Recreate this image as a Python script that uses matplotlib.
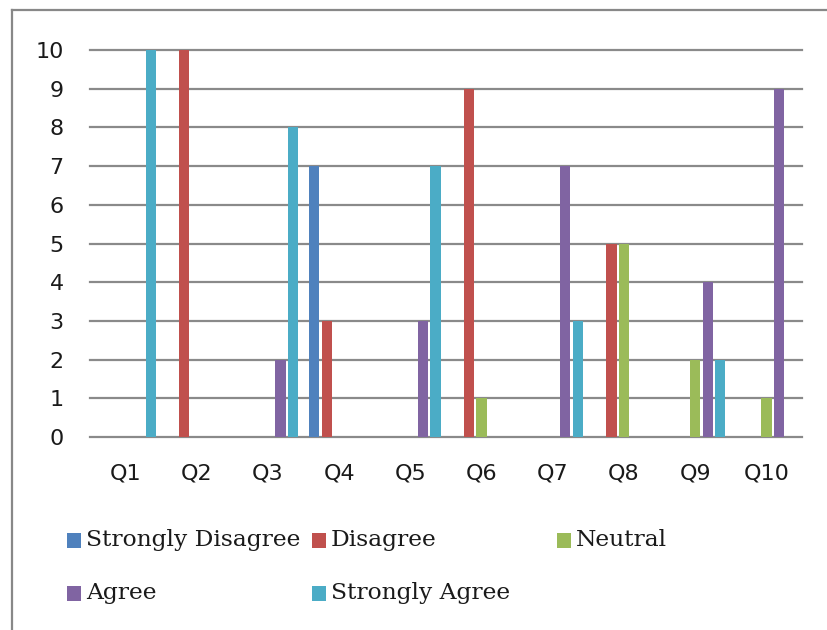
import matplotlib
matplotlib.use("Agg")
import matplotlib.pyplot as plt
from matplotlib.patches import Rectangle
from matplotlib.lines import Line2D
import numpy as np

categories = ["Q1", "Q2", "Q3", "Q4", "Q5", "Q6", "Q7", "Q8", "Q9", "Q10"]
series_names = ["Strongly Disagree", "Disagree", "Neutral", "Agree", "Strongly Agree"]
strongly_disagree = [0, 0, 0, 7, 0, 0, 0, 0, 0, 0]
disagree = [0, 10, 0, 3, 0, 9, 0, 5, 0, 0]
neutral = [0, 0, 0, 0, 0, 1, 0, 5, 2, 1]
agree = [0, 0, 2, 0, 3, 0, 7, 0, 4, 9]
strongly_agree = [10, 0, 8, 0, 7, 0, 3, 0, 2, 0]
y_ticks = [0, 1, 2, 3, 4, 5, 6, 7, 8, 9, 10]

series_values = [strongly_disagree, disagree, neutral, agree, strongly_agree]
colors = ["#4F81BD", "#C0504D", "#9BBB59", "#8064A2", "#4BACC6"]

W, H = 827, 630
fig = plt.figure(figsize=(W / 100, H / 100), dpi=100)
fig.patch.set_facecolor("white")

# plot area in pixels
left, right, top, bottom = 90, 802, 50, 437
ax = fig.add_axes([left / W, 1 - bottom / H, (right - left) / W, (bottom - top) / H])
ax.set_facecolor("none")

x = np.arange(len(categories))
slot = 0.176
bw = 0.145
for i, (vals, c) in enumerate(zip(series_values, colors)):
    ax.bar(x + (i - 2) * slot, vals, width=bw, color=c, linewidth=0, zorder=3)

ax.set_xlim(-0.5, len(categories) - 0.5)
ax.set_ylim(0, 10)
for t in y_ticks:
    ax.axhline(t, color="#8a8a8a", linewidth=1.6, zorder=1, clip_on=False)

for s in ax.spines.values():
    s.set_visible(False)

ax.set_yticks(y_ticks)
ax.set_yticklabels([str(v) for v in y_ticks])
ax.set_xticks(x)
ax.set_xticklabels(categories)
ax.tick_params(axis="both", length=0, labelsize=16, labelcolor="#1a1a1a")
ax.tick_params(axis="y", pad=19)
ax.tick_params(axis="x", pad=19)

# outer chart border (clipped at right/bottom)
fig.add_artist(Line2D([12 / W, 1.0], [1 - 10 / H, 1 - 10 / H], transform=fig.transFigure,
                      color="#888888", linewidth=1.6))
fig.add_artist(Line2D([12 / W, 12 / W], [1 - 10 / H, 0.0], transform=fig.transFigure,
                      color="#888888", linewidth=1.6))

# legend (Excel style, equal column widths)
col_x = [67, 312, 557]
row_y = [540, 593]
for k, (name, c) in enumerate(zip(series_names, colors)):
    r, cc = divmod(k, 3)
    mx, my = col_x[cc], row_y[r]
    fig.add_artist(Rectangle((mx / W, 1 - (my + 8) / H), 14 / W, 15 / H,
                             transform=fig.transFigure, facecolor=c, edgecolor="none"))
    fig.text((mx + 19) / W, 1 - my / H, name, fontsize=16.8, family="DejaVu Serif",
             color="#1a1a1a", va="center", ha="left")

fig.savefig("out.png", dpi=100, facecolor="white")
